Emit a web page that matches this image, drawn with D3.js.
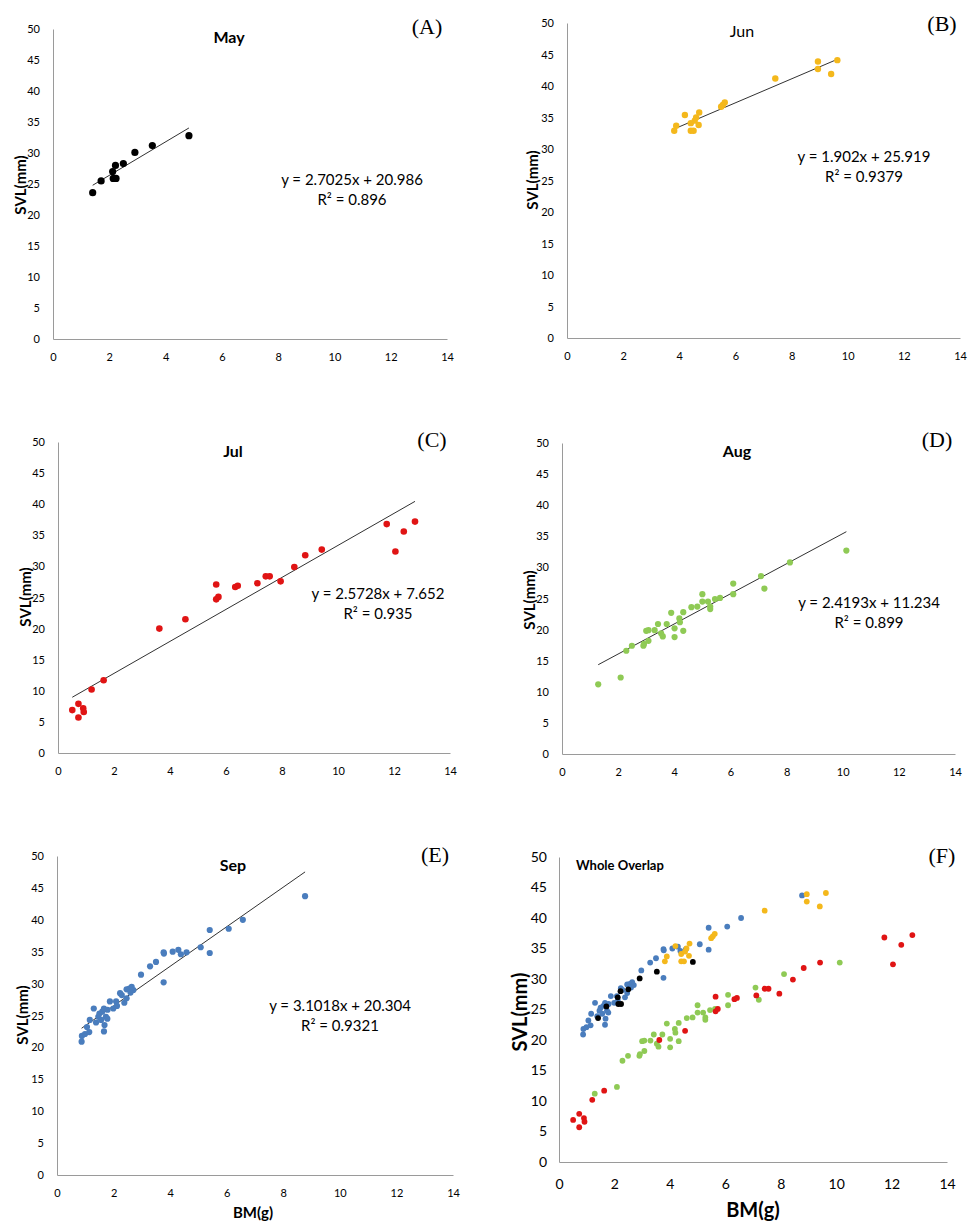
<!DOCTYPE html>
<html>
<head>
<meta charset="utf-8">
<script src="https://cdn.jsdelivr.net/npm/d3@7"></script>
<style>
  body { margin: 0; background: #fff; }
  text { font-family: Lato, "Open Sans", sans-serif; fill: #000; }
</style>
</head>
<body>
<svg id="chart"></svg>
<script>
// BM(g), SVL(mm)
const mayData = [[1.41,23.6],[1.71,25.5],[2.14,25.9],[2.24,25.9],[2.12,27.0],[2.22,28.0],[2.5,28.3],[2.91,30.1],[3.53,31.2],[4.83,32.8]];
const junData = [[3.82,32.9],[3.89,33.7],[4.2,35.4],[4.41,32.9],[4.51,32.9],[4.41,34.1],[4.69,33.8],[4.6,35.0],[4.71,35.8],[4.55,34.5],[5.49,36.7],[5.55,37.0],[5.62,37.4],[7.42,41.2],[8.94,43.9],[8.94,42.7],[9.41,41.9],[9.63,44.1]];
const julData = [[0.51,6.9],[0.73,7.9],[0.73,5.7],[0.9,7.2],[0.92,6.6],[1.2,10.2],[1.63,11.7],[3.62,20.0],[4.55,21.5],[5.65,27.1],[5.65,24.7],[5.73,25.1],[6.33,26.7],[6.42,26.9],[7.12,27.3],[7.42,28.4],[7.56,28.4],[7.95,27.6],[8.44,29.9],[8.83,31.8],[9.42,32.7],[11.74,36.8],[12.05,32.4],[12.35,35.6],[12.75,37.2]];
const augData = [[1.29,11.2],[2.09,12.3],[2.29,16.6],[2.49,17.4],[2.9,17.4],[2.92,17.7],[3.0,19.8],[3.08,19.9],[3.08,18.2],[3.3,19.9],[3.42,20.9],[3.53,19.4],[3.59,18.9],[3.73,20.9],[3.89,22.7],[4.01,20.2],[4.01,18.8],[4.18,21.8],[4.2,21.2],[4.32,22.8],[4.32,19.8],[4.61,23.6],[4.82,23.7],[5.0,25.7],[5.0,24.5],[5.2,24.5],[5.28,23.3],[5.28,23.7],[5.45,24.9],[5.63,25.1],[6.1,27.4],[6.1,25.7],[7.09,28.6],[7.21,26.6],[8.12,30.8],[10.13,32.7]];
const sepData = [[0.87,20.9],[0.88,21.8],[0.99,22.1],[1.06,23.2],[1.14,22.4],[1.16,24.3],[1.3,26.1],[1.38,23.9],[1.46,24.8],[1.5,25.3],[1.56,24.3],[1.6,25.6],[1.66,26.1],[1.66,22.5],[1.68,23.5],[1.73,24.8],[1.78,24.5],[1.79,25.9],[1.87,27.2],[1.99,26.1],[2.09,27.2],[2.12,26.5],[2.23,28.5],[2.29,28.2],[2.38,27.0],[2.46,27.7],[2.46,29.1],[2.56,29.2],[2.64,29.5],[2.7,29.0],[2.6,28.6],[2.97,31.4],[3.29,32.7],[3.5,33.4],[3.77,34.9],[3.78,34.7],[3.77,30.2],[4.09,35.0],[4.29,35.3],[4.38,34.6],[4.58,34.9],[5.08,35.7],[5.4,38.4],[5.4,34.8],[6.07,38.6],[6.57,40.0],[8.77,43.7]];

const months = ["May", "Jun", "Jul", "Aug", "Sep"];
const slopes = [2.7025, 1.902, 2.5728, 2.4193, 3.1018];
const intercepts = [20.986, 25.919, 7.652, 11.234, 20.304];
const r2Labels = ["0.896", "0.9379", "0.935", "0.899", "0.9321"];
const colors = ["#000000", "#f4b81c", "#e01414", "#8fca55", "#4a7dbd"];
const xTicks = [0, 2, 4, 6, 8, 10, 12, 14];
const yTicks = [0, 5, 10, 15, 20, 25, 30, 35, 40, 45, 50];

const allData = [mayData, junData, julData, augData, sepData];

const svg = d3.select("#chart").attr("width", 970).attr("height", 1228);
svg.append("rect").attr("width", 970).attr("height", 1228).attr("fill", "#fff");

// panel layout (pixels)
const panels = [
  { m: 0, letter: "(A)", box: [53, 447, 29, 339], title: [229, 43], titleBold: true, letterPos: [427, 34], eq: [352, 185], yLab: [20, 185], r: 3.6 },
  { m: 1, letter: "(B)", box: [567, 960, 23, 338], title: [742, 37], titleBold: false, letterPos: [942, 31], eq: [864, 162], yLab: [532, 180], r: 3.2 },
  { m: 2, letter: "(C)", box: [58, 450, 442, 753], title: [233, 457], titleBold: true, letterPos: [432, 447], eq: [378, 599], yLab: [25, 597], r: 3.3 },
  { m: 3, letter: "(D)", box: [562, 955, 443, 754], title: [737, 457], titleBold: true, letterPos: [937, 447], eq: [869, 608], yLab: [529, 600], r: 3.1 },
  { m: 4, letter: "(E)", box: [57, 453, 856, 1175], title: [233, 871], titleBold: true, letterPos: [435, 862], eq: [340, 1011], yLab: [22, 1015], r: 3.1, xLab: [253, 1218] },
  { m: -1, letter: "(F)", box: [559, 947, 857, 1162], letterPos: [942, 863], yLab: [519, 1012], r: 2.9, xLab: [753, 1217], big: true }
];

panels.forEach(p => {
  const [l, rgt, t, b] = p.box;
  const x = d3.scaleLinear().domain([0, 14]).range([l, rgt]);
  const y = d3.scaleLinear().domain([0, 50]).range([b, t]);
  const g = svg.append("g");
  const tickSize = p.big ? 14 : 11;

  // axes
  const xAxis = g.append("g").attr("transform", `translate(0,${b})`)
    .call(d3.axisBottom(x).tickValues(xTicks).tickSize(0).tickPadding(p.big ? 17 : 14));
  const yAxis = g.append("g").attr("transform", `translate(${l},0)`)
    .call(d3.axisLeft(y).tickValues(yTicks).tickSize(0).tickPadding(p.big ? 12 : 13));
  [xAxis, yAxis].forEach(a => {
    a.select(".domain").attr("stroke", "#9a9a9a").attr("stroke-width", 1);
    a.selectAll("text").attr("font-size", tickSize).attr("fill", "#111")
      .style("font-family", "Lato, sans-serif");
  });

  if (p.m >= 0) {
    const data = allData[p.m];
    const ext = d3.extent(data, d => d[0]);
    // trend line over the data range
    g.append("line")
      .attr("x1", x(ext[0])).attr("y1", y(slopes[p.m] * ext[0] + intercepts[p.m]))
      .attr("x2", x(ext[1])).attr("y2", y(slopes[p.m] * ext[1] + intercepts[p.m]))
      .attr("stroke", "#1a1a1a").attr("stroke-width", 0.9);
    g.selectAll("circle.pt").data(data).join("circle")
      .attr("class", "pt")
      .attr("cx", d => x(d[0])).attr("cy", d => y(d[1]))
      .attr("r", p.r).attr("fill", colors[p.m]);

    g.append("text").attr("x", p.title[0]).attr("y", p.title[1])
      .attr("text-anchor", "middle").attr("font-size", 16)
      .attr("font-weight", p.titleBold ? "bold" : "normal")
      .text(months[p.m]);

    const sign = intercepts[p.m] >= 0 ? "+" : "-";
    g.append("text").attr("x", p.eq[0]).attr("y", p.eq[1])
      .attr("text-anchor", "middle").attr("font-size", 15)
      .text(`y = ${slopes[p.m]}x ${sign} ${intercepts[p.m]}`);
    g.append("text").attr("x", p.eq[0]).attr("y", p.eq[1] + 20)
      .attr("text-anchor", "middle").attr("font-size", 15)
      .text(`R² = ${r2Labels[p.m]}`);
  } else {
    // overlap of all months
    const order = [3, 4, 2, 1, 0];
    order.forEach(i => {
      g.selectAll(`circle.m${i}`).data(allData[i]).join("circle")
        .attr("class", `m${i}`)
        .attr("cx", d => x(d[0])).attr("cy", d => y(d[1]))
        .attr("r", p.r).attr("fill", colors[i]);
    });
    g.append("text").attr("x", 576).attr("y", 870)
      .attr("font-size", 13).attr("font-weight", "bold")
      .text("Whole Overlap");
  }

  g.append("text").attr("x", p.letterPos[0]).attr("y", p.letterPos[1])
    .attr("text-anchor", "middle").attr("font-size", 22)
    .style("font-family", "'Liberation Serif', 'DejaVu Serif', serif")
    .text(p.letter);

  g.append("text")
    .attr("transform", `translate(${p.yLab[0]},${p.yLab[1]}) rotate(-90)`)
    .attr("text-anchor", "middle").attr("dominant-baseline", "central")
    .attr("font-size", p.big ? 20 : 15).attr("font-weight", "bold")
    .text("SVL(mm)");

  if (p.xLab) {
    g.append("text").attr("x", p.xLab[0]).attr("y", p.xLab[1])
      .attr("text-anchor", "middle")
      .attr("font-size", p.big ? 20 : 15).attr("font-weight", "bold")
      .text("BM(g)");
  }
});
</script>
</body>
</html>
